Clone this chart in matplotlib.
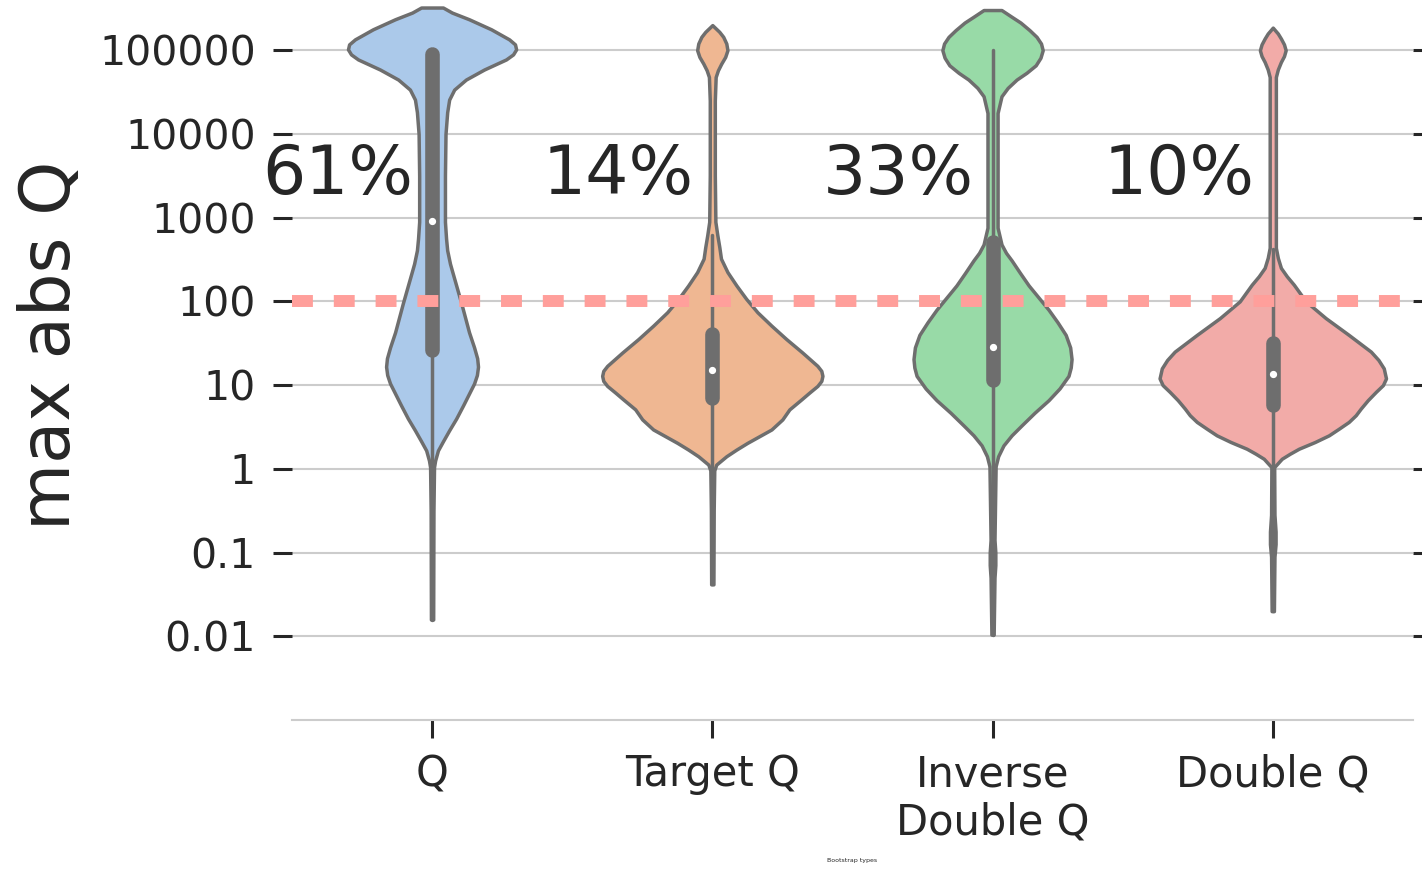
import numpy as np
import matplotlib.pyplot as plt

# categories and annotations
categories = ["Q", "Target Q", "Inverse\nDouble Q", "Double Q"]
pct_labels = ["61%", "14%", "33%", "10%"]
pct_level = 3.28  # log10 position of the percent labels
threshold = 2     # log10(100)

# violin outlines: log10(max abs Q) vs half-width
q_levels = [5.51, 5.45, 5.37, 5.25, 5.13, 5.07, 5.01, 4.95, 4.89, 4.77, 4.65, 4.53, 4.41,
            4.26, 4.00, 3.50, 2.95, 2.75, 2.61, 2.45, 2.32, 1.98, 1.63, 1.45, 1.32, 1.22,
            1.12, 1.02, 0.90, 0.76, 0.60, 0.46, 0.33, 0.22, 0.10, 0.02, -0.5, -1.80]
q_width = [0.039, 0.071, 0.132, 0.211, 0.275, 0.296, 0.300, 0.289, 0.264, 0.186, 0.121, 0.079, 0.061,
           0.054, 0.048, 0.046, 0.046, 0.050, 0.054, 0.064, 0.075, 0.104, 0.132, 0.150, 0.161, 0.164,
           0.160, 0.150, 0.132, 0.111, 0.086, 0.061, 0.039, 0.021, 0.011, 0.007, 0.005, 0.004]

tq_levels = [5.30, 5.22, 5.16, 5.08, 5.00, 4.92, 4.84, 4.76, 4.68, 4.40, 3.50, 2.95, 2.79,
             2.65, 2.51, 2.35, 2.19, 2.03, 1.87, 1.71, 1.55, 1.39, 1.23, 1.17, 1.11, 1.05,
             0.99, 0.91, 0.83, 0.71, 0.59, 0.47, 0.39, 0.31, 0.23, 0.15, 0.05, -0.02, -0.5, -1.38]
tq_width = [0.0, 0.025, 0.039, 0.050, 0.054, 0.046, 0.032, 0.020, 0.012, 0.009, 0.009, 0.011, 0.018,
            0.025, 0.031, 0.054, 0.086, 0.121, 0.161, 0.211, 0.264, 0.321, 0.375, 0.389, 0.393, 0.389,
            0.375, 0.346, 0.318, 0.275, 0.250, 0.211, 0.168, 0.125, 0.086, 0.050, 0.014, 0.007, 0.005, 0.004]

idq_levels = [5.48, 5.40, 5.33, 5.24, 5.16, 5.08, 5.00, 4.91, 4.82, 4.73, 4.65, 4.55, 4.45,
              4.25, 2.88, 2.68, 2.58, 2.49, 2.34, 2.19, 1.90, 1.75, 1.60, 1.45, 1.31, 1.21,
              1.11, 0.96, 0.82, 0.67, 0.52, 0.40, 0.28, 0.15, 0.03, -0.85, -1.0, -1.15, -1.3, -1.98]
idq_width = [0.032, 0.068, 0.100, 0.132, 0.157, 0.173, 0.179, 0.171, 0.154, 0.121, 0.086, 0.054, 0.032,
             0.018, 0.018, 0.032, 0.048, 0.068, 0.098, 0.129, 0.200, 0.232, 0.261, 0.277, 0.282, 0.279,
             0.271, 0.239, 0.200, 0.150, 0.104, 0.068, 0.039, 0.020, 0.011, 0.007, 0.010, 0.010, 0.007, 0.004]

dq_levels = [5.27, 5.20, 5.14, 5.07, 5.00, 4.93, 4.86, 4.77, 4.68, 3.00, 2.64, 2.52, 2.40,
             2.30, 2.20, 2.00, 1.80, 1.60, 1.40, 1.30, 1.20, 1.08, 1.00, 0.92, 0.82, 0.72,
             0.64, 0.56, 0.48, 0.40, 0.32, 0.24, 0.18, 0.12, 0.02, -0.55, -0.75, -0.9, -1.05, -1.70]
dq_width = [0.0, 0.018, 0.029, 0.040, 0.046, 0.040, 0.029, 0.018, 0.011, 0.011, 0.011, 0.018, 0.029,
            0.050, 0.075, 0.118, 0.189, 0.271, 0.350, 0.377, 0.396, 0.404, 0.393, 0.368, 0.339, 0.314,
            0.296, 0.271, 0.236, 0.200, 0.150, 0.093, 0.061, 0.032, 0.005, 0.006, 0.010, 0.010, 0.006, 0.004]

# inner box stats (log10): q1, median, q3, whisker low, whisker high
q1s = [1.42, 0.84, 1.06, 0.76]
medians = [2.96, 1.18, 1.45, 1.13]
q3s = [4.96, 1.61, 2.71, 1.50]
whisk_lo = [-1.80, -1.37, -1.98, -1.70]
whisk_hi = [4.96, 2.79, 5.00, 2.63]

levels = [q_levels, tq_levels, idq_levels, dq_levels]
widths = [q_width, tq_width, idq_width, dq_width]
fills = ["#abc9ea", "#efb792", "#98daa7", "#f2aba8"]
gray = "#6e6e6e"
ink = "#262626"

fig = plt.figure(figsize=(14.22, 8.69), dpi=100)
ax = fig.add_axes([0.2053, 0.1715, 0.7883, 0.8285])

for i in range(len(categories)):
    y = np.array(levels[i])
    w = np.array(widths[i])
    ax.fill_betweenx(y, i - w, i + w, facecolor=fills[i], edgecolor=gray,
                     linewidth=2.5, joinstyle="round", zorder=2)
    ax.plot([i, i], [whisk_lo[i], whisk_hi[i]], color=gray, lw=2.5,
            solid_capstyle="round", zorder=3)
    ax.plot([i, i], [q1s[i], q3s[i]], color=gray, lw=10.5,
            solid_capstyle="round", zorder=3)
    ax.plot(i, medians[i], "o", color="white", mec="white", ms=4.2, zorder=4)
    ax.text(i - 0.605, pct_level, pct_labels[i], fontsize=49, color=ink,
            ha="left", va="baseline", zorder=5)

ax.axhline(threshold, color="#ff9f9b", lw=8.6, dashes=(1.75, 1.75), zorder=6)

ax.set_xlim(-0.5, 3.5)
ax.set_ylim(-3, 5.6)
ax.set_xticks(range(len(categories)))
ax.set_xticklabels(categories, fontsize=30, color=ink, linespacing=1.2)
ax.set_yticks(range(-2, 6))
ax.set_yticklabels(["0.01", "0.1", "1", "10", "100", "1000", "10000", "100000"],
                   fontsize=29.5, color=ink)
ax.tick_params(axis="y", right=True, length=14, width=2.2, color=ink, pad=12)
ax.tick_params(axis="x", length=13, width=2.2, color=ink, pad=11)

ax.grid(axis="y", color="#cccccc", lw=1.5, zorder=0)
ax.set_axisbelow(True)
for s in ["left", "right", "top"]:
    ax.spines[s].set_visible(False)
ax.spines["bottom"].set_color("#cccccc")
ax.spines["bottom"].set_linewidth(1.5)

ax.set_ylabel("max abs Q", fontsize=49.5, color=ink)
ax.yaxis.set_label_coords(-0.1855, 0.52)
ax.set_xlabel("Bootstrap types", fontsize=4.5, color=ink)
ax.xaxis.set_label_coords(0.5, -0.192)

fig.savefig("out.png", dpi=100)
